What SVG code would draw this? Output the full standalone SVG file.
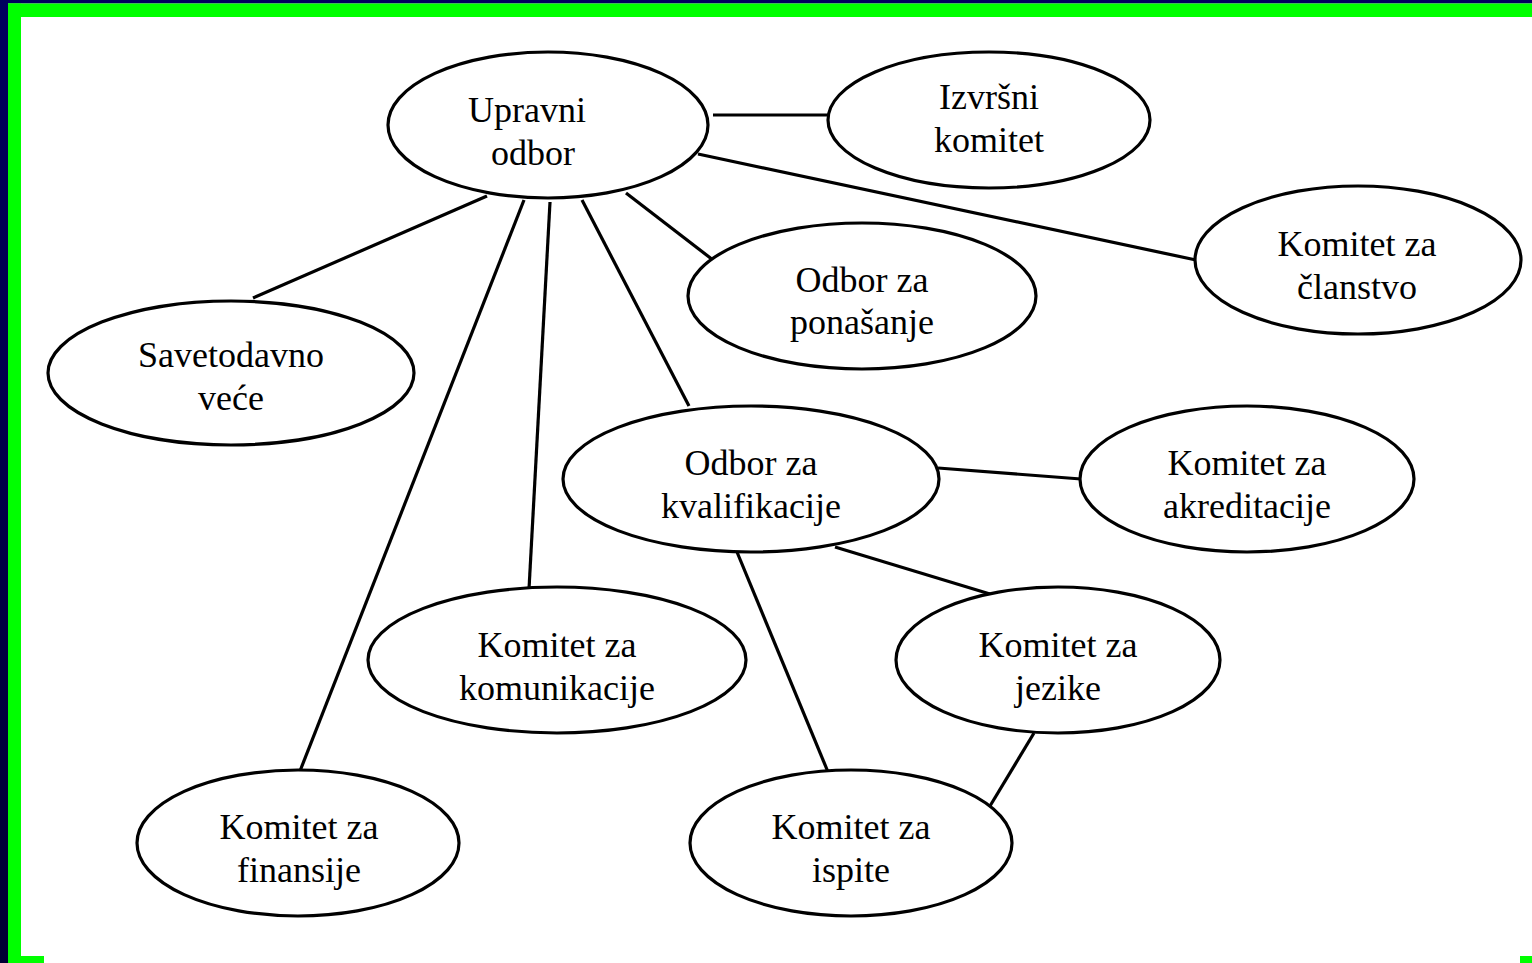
<svg xmlns="http://www.w3.org/2000/svg" width="1532" height="963" viewBox="0 0 1532 963">
<style>
.n ellipse{fill:#fff;stroke:#000;stroke-width:3.2}
.n text{font-family:'Liberation Serif','Times New Roman','DejaVu Serif',serif;font-size:36px;fill:#000;text-anchor:middle}
#connectors line{stroke:#000;stroke-width:3.2}
</style>
<defs>
<linearGradient id="navy" x1="0" y1="0" x2="0" y2="1">
<stop offset="0" stop-color="#00005e"/>
<stop offset="1" stop-color="#000033"/>
</linearGradient>
</defs>
<rect width="1532" height="963" fill="#fff"/>
<g id="frame">
<rect x="0" y="0" width="1532" height="3.5" fill="#00005e"/>
<rect x="0" y="0" width="8" height="963" fill="url(#navy)"/>
<rect x="8" y="3.5" width="1524" height="13.5" fill="#00ff00"/>
<rect x="8" y="3.5" width="13" height="959.5" fill="#00ff00"/>
<rect x="8" y="956" width="36" height="7" fill="#00ff00"/>
<rect x="1520" y="956" width="12" height="7" fill="#00ff00"/>
</g>
<g id="connectors">
<line x1="487" y1="196" x2="253" y2="298"/>
<line x1="524" y1="200" x2="300" y2="771"/>
<line x1="550" y1="202" x2="529" y2="589"/>
<line x1="582" y1="200" x2="689" y2="406"/>
<line x1="626" y1="193" x2="713" y2="260"/>
<line x1="713" y1="115" x2="828" y2="115"/>
<line x1="698" y1="154" x2="1196" y2="260"/>
<line x1="938" y1="468" x2="1081" y2="479"/>
<line x1="835" y1="547" x2="990" y2="594"/>
<line x1="737" y1="552" x2="828" y2="772"/>
<line x1="1034" y1="733" x2="990" y2="806"/>
</g>
<g id="upravni" class="n"><ellipse cx="548" cy="125" rx="160" ry="73"/><text x="527" y="122">Upravni</text><text x="533" y="165">odbor</text></g>
<g id="izvrsni" class="n"><ellipse cx="989" cy="120" rx="161" ry="68"/><text x="989" y="109">Izvršni</text><text x="989" y="152">komitet</text></g>
<g id="clanstvo" class="n"><ellipse cx="1358" cy="260" rx="163" ry="74"/><text x="1357" y="256">Komitet za</text><text x="1357" y="299">članstvo</text></g>
<g id="ponasanje" class="n"><ellipse cx="862" cy="296" rx="174" ry="73"/><text x="862" y="292">Odbor za</text><text x="862" y="334">ponašanje</text></g>
<g id="savetodavno" class="n"><ellipse cx="231" cy="373" rx="183" ry="72"/><text x="231" y="367">Savetodavno</text><text x="231" y="410">veće</text></g>
<g id="kvalifikacije" class="n"><ellipse cx="751" cy="479" rx="188" ry="73"/><text x="751" y="475">Odbor za</text><text x="751" y="518">kvalifikacije</text></g>
<g id="akreditacije" class="n"><ellipse cx="1247" cy="479" rx="167" ry="73"/><text x="1247" y="475">Komitet za</text><text x="1247" y="518">akreditacije</text></g>
<g id="komunikacije" class="n"><ellipse cx="557" cy="660" rx="189" ry="73"/><text x="557" y="657">Komitet za</text><text x="557" y="700">komunikacije</text></g>
<g id="jezike" class="n"><ellipse cx="1058" cy="660" rx="162" ry="73"/><text x="1058" y="657">Komitet za</text><text x="1058" y="700">jezike</text></g>
<g id="finansije" class="n"><ellipse cx="298" cy="843" rx="161" ry="73"/><text x="299" y="839">Komitet za</text><text x="299" y="882">finansije</text></g>
<g id="ispite" class="n"><ellipse cx="851" cy="843" rx="161" ry="73"/><text x="851" y="839">Komitet za</text><text x="851" y="882">ispite</text></g>
</svg>
